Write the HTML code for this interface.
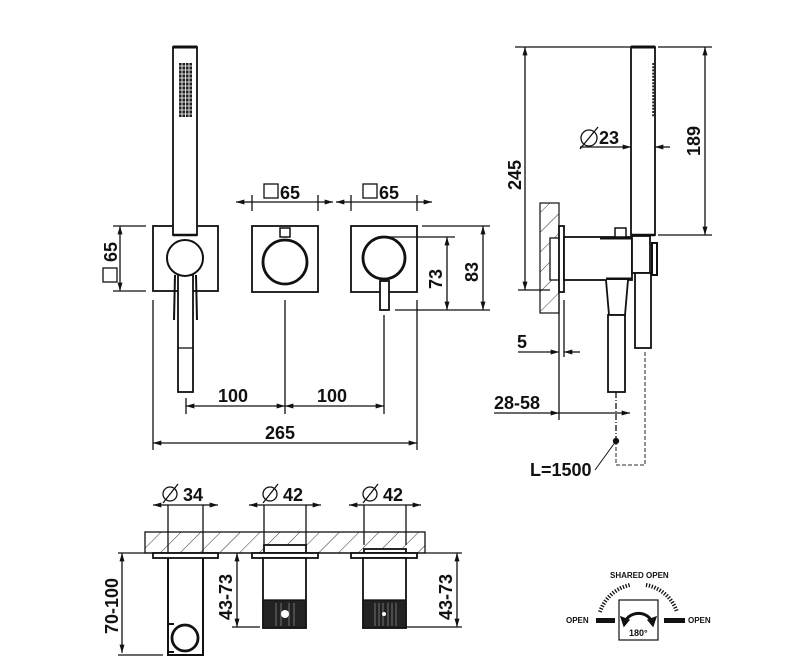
<!DOCTYPE html>
<html><head><meta charset="utf-8"><style>
html,body{margin:0;padding:0;background:#fff;}
svg{display:block;}
text{font-family:"Liberation Sans",sans-serif;font-weight:bold;fill:#111;}
</style></head><body>
<svg width="788" height="672" viewBox="0 0 788 672" xmlns="http://www.w3.org/2000/svg">
<defs>
<marker id="a" viewBox="0 0 10 6" refX="10" refY="3" markerWidth="14" markerHeight="5" orient="auto-start-reverse" markerUnits="userSpaceOnUse"><path d="M0,0L10,3L0,6z" fill="#111"/></marker>
<pattern id="h" width="14" height="14" patternUnits="userSpaceOnUse" patternTransform="rotate(45)"><line x1="0" y1="0" x2="0" y2="14" stroke="#333" stroke-width="1"/></pattern>
</defs>
<g fill="none" stroke="#111" stroke-width="1.3">
<!-- FRONT VIEW -->
<rect x="153" y="226" width="65" height="65" stroke-width="1.8"/>
<rect x="173" y="47" width="24" height="188" fill="#fff" stroke-width="1.8"/>
<line x1="173" y1="47" x2="197" y2="47" stroke-width="3"/>
<line x1="173" y1="235" x2="197" y2="235" stroke-width="2.5"/>
<rect x="179" y="63" width="13" height="54" fill="#222" stroke="none"/>
<g stroke="#fff" stroke-width="0.8">
<line x1="179" y1="66" x2="192" y2="66"/><line x1="179" y1="70" x2="192" y2="70"/><line x1="179" y1="74" x2="192" y2="74"/><line x1="179" y1="78" x2="192" y2="78"/><line x1="179" y1="82" x2="192" y2="82"/><line x1="179" y1="86" x2="192" y2="86"/><line x1="179" y1="90" x2="192" y2="90"/><line x1="179" y1="94" x2="192" y2="94"/><line x1="179" y1="98" x2="192" y2="98"/><line x1="179" y1="102" x2="192" y2="102"/><line x1="179" y1="106" x2="192" y2="106"/><line x1="179" y1="110" x2="192" y2="110"/><line x1="179" y1="114" x2="192" y2="114"/>
<line x1="182" y1="63" x2="182" y2="117"/><line x1="185.5" y1="63" x2="185.5" y2="117"/><line x1="189" y1="63" x2="189" y2="117"/>
</g>
<line x1="175" y1="275" x2="174" y2="320" stroke-width="2"/><line x1="196" y1="275" x2="197" y2="320" stroke-width="2"/>
<rect x="178" y="275" width="15" height="117" fill="#fff" stroke-width="1.8"/>
<line x1="178" y1="348" x2="193" y2="348"/>
<circle cx="185" cy="258" r="18" fill="#fff" stroke-width="2"/>

<rect x="252" y="226" width="66" height="66" stroke-width="1.8"/>
<circle cx="285" cy="262" r="22" stroke-width="2.8"/>
<rect x="280" y="228" width="10" height="9" fill="#fff" stroke-width="1.5"/>
<rect x="351" y="226" width="66" height="66" stroke-width="1.8"/>
<circle cx="384" cy="258" r="21" stroke-width="2.8"/>
<rect x="380" y="281" width="9" height="29" fill="#fff" stroke-width="1.8"/>

<!-- front dims -->
<line x1="252" y1="195" x2="252" y2="211"/><line x1="318" y1="195" x2="318" y2="211"/>
<line x1="236" y1="202" x2="252" y2="202" marker-start="url(#a)"/><line x1="318" y1="202" x2="333" y2="202" marker-end="url(#a)"/>
<line x1="252" y1="202" x2="318" y2="202"/>
<line x1="351" y1="195" x2="351" y2="211"/><line x1="417" y1="195" x2="417" y2="211"/>
<line x1="336" y1="202" x2="351" y2="202" marker-start="url(#a)"/><line x1="417" y1="202" x2="432" y2="202" marker-end="url(#a)"/>
<line x1="351" y1="202" x2="417" y2="202"/>
<rect x="264" y="184" width="14" height="14"/><rect x="363" y="184" width="14" height="14"/>
<rect x="103" y="268" width="14" height="14"/>

<line x1="113" y1="226" x2="146" y2="226"/><line x1="113" y1="291" x2="146" y2="291"/>
<line x1="120" y1="226" x2="120" y2="291" marker-start="url(#a)" marker-end="url(#a)"/>
<line x1="422" y1="226" x2="490" y2="226"/><line x1="385" y1="237" x2="455" y2="237"/><line x1="395" y1="310" x2="490" y2="310"/>
<line x1="447" y1="237" x2="447" y2="310" marker-start="url(#a)" marker-end="url(#a)"/>
<line x1="483" y1="226" x2="483" y2="310" marker-start="url(#a)" marker-end="url(#a)"/>
<line x1="186" y1="398" x2="186" y2="414"/><line x1="285" y1="300" x2="285" y2="414"/><line x1="384" y1="315" x2="384" y2="414"/>
<line x1="186" y1="406" x2="285" y2="406" marker-start="url(#a)" marker-end="url(#a)"/>
<line x1="285" y1="406" x2="384" y2="406" marker-start="url(#a)" marker-end="url(#a)"/>
<line x1="153" y1="300" x2="153" y2="450"/><line x1="417" y1="300" x2="417" y2="450"/>
<line x1="153" y1="443" x2="417" y2="443" marker-start="url(#a)" marker-end="url(#a)"/>

<!-- SIDE VIEW -->
<rect x="540" y="203" width="19" height="110" fill="url(#h)" stroke-width="1.2"/>
<rect x="550" y="238" width="9" height="42" fill="#fff"/>
<rect x="559" y="226" width="5" height="66" fill="#fff" stroke-width="1.8"/>
<rect x="564" y="237" width="68" height="43" fill="#fff" stroke-width="1.8"/>
<line x1="600" y1="238" x2="632" y2="238" stroke-width="3"/><line x1="606" y1="279" x2="632" y2="279" stroke-width="3"/>
<rect x="615" y="228" width="11" height="9" fill="#fff" stroke-width="1.5"/>
<path d="M606,280 L609,315 L625,315 L628,280" fill="#fff" stroke-width="1.8"/>
<rect x="608" y="315" width="17" height="77" fill="#fff" stroke-width="1.8"/>
<rect x="631" y="47" width="24" height="188" fill="#fff" stroke-width="1.8"/>
<line x1="631" y1="47" x2="655" y2="47" stroke-width="3"/>
<line x1="631" y1="235" x2="655" y2="235" stroke-width="2.5"/>
<line x1="654" y1="63" x2="654" y2="117" stroke="#222" stroke-width="3.5" stroke-dasharray="2,1.2"/>
<rect x="632" y="236" width="18" height="37" fill="#fff" stroke-width="1.8"/>
<rect x="635" y="273" width="16" height="75" fill="#fff" stroke-width="1.8"/>
<rect x="652" y="243" width="5" height="32" fill="#fff" stroke-width="2"/>
<line x1="616" y1="392" x2="616" y2="441" stroke-dasharray="6,2,1,2"/>
<path d="M616,441 L616,465 L645,465 L645,350" stroke-dasharray="4,2" stroke="#555"/>
<circle cx="616" cy="441" r="2.5" fill="#111"/>
<path d="M616,441 L595,470" stroke-width="1"/>

<line x1="515" y1="47" x2="630" y2="47"/><line x1="518" y1="290" x2="550" y2="290"/>
<line x1="525" y1="47" x2="525" y2="290" marker-start="url(#a)" marker-end="url(#a)"/>
<line x1="658" y1="47" x2="712" y2="47"/><line x1="658" y1="235" x2="712" y2="235"/>
<line x1="705" y1="47" x2="705" y2="235" marker-start="url(#a)" marker-end="url(#a)"/>
<line x1="580" y1="147" x2="631" y2="147" marker-end="url(#a)"/>
<line x1="670" y1="147" x2="655" y2="147" marker-end="url(#a)"/>
<circle cx="589" cy="138" r="8"/><line x1="580" y1="149" x2="598" y2="127"/>
<line x1="559" y1="292" x2="559" y2="420"/><line x1="564" y1="300" x2="564" y2="357"/>
<line x1="518" y1="352" x2="559" y2="352" marker-end="url(#a)"/><line x1="580" y1="352" x2="564" y2="352" marker-end="url(#a)"/>
<line x1="494" y1="413" x2="559" y2="413" marker-end="url(#a)"/><line x1="559" y1="413" x2="630" y2="413" marker-end="url(#a)"/>

<!-- BOTTOM VIEW -->
<rect x="145" y="532" width="280" height="21" fill="url(#h)"/>
<line x1="118" y1="553" x2="462" y2="553"/>
<rect x="264" y="545" width="42" height="8" fill="#fff" stroke-width="1.8"/>
<rect x="364" y="549" width="42" height="4" fill="#fff" stroke-width="1.8"/>
<rect x="153" y="553" width="65" height="5" fill="#fff" stroke-width="1.8"/>
<rect x="252" y="553" width="66" height="5" fill="#fff" stroke-width="1.8"/>
<rect x="351" y="553" width="66" height="5" fill="#fff" stroke-width="1.8"/>
<path d="M168,558 L168,655 L203,655 L203,558" stroke-width="2"/>
<circle cx="185" cy="638" r="13" fill="#fff" stroke-width="2.8"/>
<path d="M168,624 L174,624 M168,652 L174,652" stroke-width="2"/>
<rect x="263" y="558" width="43" height="70" fill="#fff" stroke-width="1.8"/>
<rect x="263" y="600" width="43" height="28" fill="#222" stroke="#111"/>
<rect x="363" y="558" width="43" height="70" fill="#fff" stroke-width="1.8"/>
<rect x="363" y="600" width="43" height="28" fill="#222" stroke="#111"/>
<g stroke="#888" stroke-width="0.8">
<line x1="276" y1="603" x2="276" y2="626"/><line x1="281" y1="603" x2="281" y2="626"/><line x1="289" y1="603" x2="289" y2="626"/><line x1="294" y1="603" x2="294" y2="626"/>
<line x1="375" y1="603" x2="375" y2="626"/><line x1="379" y1="603" x2="379" y2="626"/><line x1="383" y1="603" x2="383" y2="626"/><line x1="388" y1="603" x2="388" y2="626"/><line x1="392" y1="603" x2="392" y2="626"/><line x1="396" y1="603" x2="396" y2="626"/>
</g>
<circle cx="285" cy="614" r="4" fill="#fff" stroke="none"/>
<circle cx="384" cy="614" r="2" fill="#fff" stroke="none"/>

<line x1="168" y1="505" x2="168" y2="553"/><line x1="203" y1="505" x2="203" y2="553"/>
<line x1="153" y1="505" x2="168" y2="505" marker-start="url(#a)"/><line x1="203" y1="505" x2="218" y2="505" marker-end="url(#a)"/><line x1="168" y1="505" x2="203" y2="505"/>
<line x1="264" y1="505" x2="264" y2="545"/><line x1="306" y1="505" x2="306" y2="545"/>
<line x1="249" y1="505" x2="264" y2="505" marker-start="url(#a)"/><line x1="306" y1="505" x2="321" y2="505" marker-end="url(#a)"/><line x1="264" y1="505" x2="306" y2="505"/>
<line x1="364" y1="505" x2="364" y2="545"/><line x1="406" y1="505" x2="406" y2="545"/>
<line x1="349" y1="505" x2="364" y2="505" marker-start="url(#a)"/><line x1="406" y1="505" x2="421" y2="505" marker-end="url(#a)"/><line x1="364" y1="505" x2="406" y2="505"/>
<circle cx="170" cy="494" r="7"/><line x1="163" y1="503" x2="178" y2="484"/>
<circle cx="270" cy="494" r="7"/><line x1="263" y1="503" x2="278" y2="484"/>
<circle cx="370" cy="494" r="7"/><line x1="363" y1="503" x2="378" y2="484"/>
<line x1="122" y1="553" x2="122" y2="653" marker-start="url(#a)" marker-end="url(#a)"/>
<line x1="118" y1="655" x2="163" y2="655"/>
<line x1="237" y1="553" x2="237" y2="627" marker-start="url(#a)" marker-end="url(#a)"/>
<line x1="232" y1="627" x2="260" y2="627"/>
<line x1="457" y1="553" x2="457" y2="627" marker-start="url(#a)" marker-end="url(#a)"/>
<line x1="406" y1="627" x2="462" y2="627"/>

<!-- LOGO -->
<rect x="619" y="600" width="39" height="40" stroke-width="1.2"/>
<rect x="596" y="618" width="19" height="5" fill="#111" stroke="none"/>
<rect x="664" y="618" width="21" height="5" fill="#111" stroke="none"/>
<path d="M600,612 A40,40 0 0 1 630,585" stroke-width="4" stroke-dasharray="1.3,1.6"/>
<path d="M646,585 A40,40 0 0 1 677,612" stroke-width="4" stroke-dasharray="1.3,1.6"/>
<path d="M626,620 A14,12 0 0 1 651,620" stroke-width="3"/>
<path d="M621,617 L629,620 L624,626 z" fill="#111"/>
<path d="M656,617 L648,620 L653,626 z" fill="#111"/>
</g>
<!-- texts -->
<text x="280" y="199" font-size="18">65</text>
<text x="379" y="199" font-size="18">65</text>
<text x="0" y="0" font-size="18" transform="translate(117,262) rotate(-90)">65</text>
<text x="0" y="0" font-size="18" transform="translate(442,289) rotate(-90)">73</text>
<text x="0" y="0" font-size="18" transform="translate(478,282) rotate(-90)">83</text>
<text x="218" y="402" font-size="18">100</text>
<text x="317" y="402" font-size="18">100</text>
<text x="265" y="439" font-size="18">265</text>
<text x="0" y="0" font-size="18" transform="translate(521,190) rotate(-90)">245</text>
<text x="0" y="0" font-size="18" transform="translate(700,156) rotate(-90)">189</text>
<text x="599" y="144" font-size="18">23</text>
<text x="517" y="348" font-size="18">5</text>
<text x="494" y="409" font-size="18">28-58</text>
<text x="530" y="476" font-size="18">L=1500</text>
<text x="183" y="501" font-size="18">34</text>
<text x="283" y="501" font-size="18">42</text>
<text x="383" y="501" font-size="18">42</text>
<text x="0" y="0" font-size="18" transform="translate(118,634) rotate(-90)">70-100</text>
<text x="0" y="0" font-size="18" transform="translate(232,620) rotate(-90)">43-73</text>
<text x="0" y="0" font-size="18" transform="translate(452,620) rotate(-90)">43-73</text>
<text x="610" y="578" font-size="8">SHARED OPEN</text>
<text x="566" y="623" font-size="8">OPEN</text>
<text x="688" y="623" font-size="8">OPEN</text>
<text x="629" y="636" font-size="9">180°</text>
</svg>
</body></html>
